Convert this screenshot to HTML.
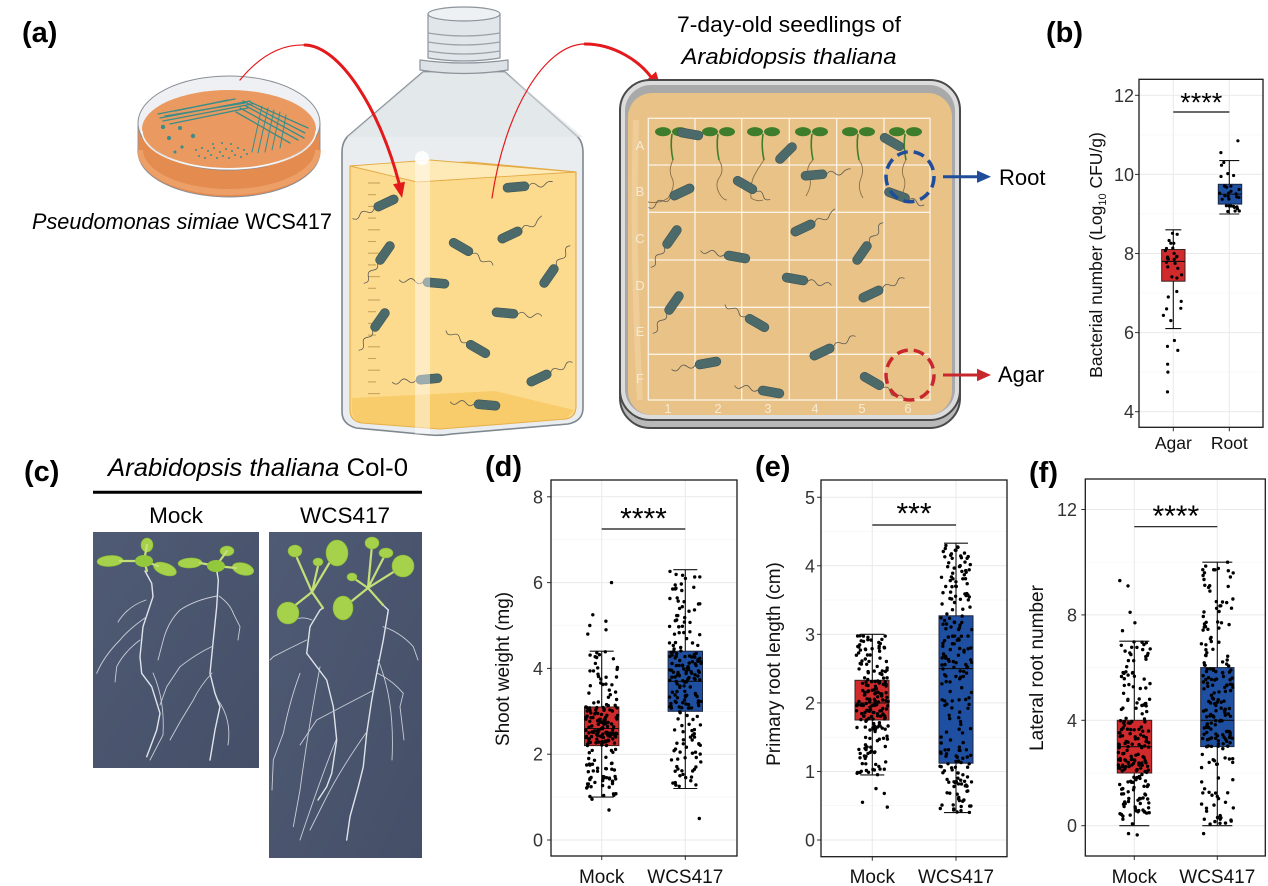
<!DOCTYPE html>
<html><head><meta charset="utf-8">
<style>
html,body{margin:0;padding:0;background:#fff;}
svg{display:block;font-family:"Liberation Sans",Arial,sans-serif;}
.bac{fill:#4d6a6b;stroke:#3b5455;stroke-width:0.6;}
.fl{fill:none;stroke:#5a5a52;stroke-width:0.8;}
.grM{stroke:#e9e9e9;stroke-width:1;}
.grm{stroke:#f4f4f4;stroke-width:0.6;}
.tk{stroke:#333;stroke-width:1;}
.tl{font-size:18px;fill:#333;text-anchor:end;}
.xl{font-size:19px;fill:#111;text-anchor:middle;}
.yt{font-size:19px;fill:#111;text-anchor:middle;}
.lab{font-size:29px;font-weight:bold;fill:#000;}
.root{fill:none;stroke:#dfe3ea;stroke-width:1.4;stroke-linecap:round;}
.rootf{fill:none;stroke:#c9ced8;stroke-width:0.9;stroke-linecap:round;}
.leaf{fill:#a6d24b;stroke:#85b532;stroke-width:0.6;}
.pet{fill:none;stroke:#c4de78;stroke-width:2.2;stroke-linecap:round;}
</style></head>
<body>
<svg width="1268" height="886" viewBox="0 0 1268 886" xmlns="http://www.w3.org/2000/svg">
<rect width="1268" height="886" fill="#fff"/>

<!-- ========== PANEL LABELS ========== -->
<text class="lab" x="22" y="42">(a)</text>
<text class="lab" x="1046" y="42">(b)</text>
<text class="lab" x="24" y="481">(c)</text>
<text class="lab" x="485" y="476">(d)</text>
<text class="lab" x="755" y="476">(e)</text>
<text class="lab" x="1029" y="482">(f)</text>

<!-- ========== PETRI DISH ========== -->
<g>
  <path d="M138,124 L138,152 A91,45 0 0 0 320,152 L320,124 Z" fill="#e48b50" stroke="#8a8f96" stroke-width="0.9"/>
  <path d="M140,150 A89,42 0 0 0 318,150" fill="none" stroke="#efa46e" stroke-width="6" opacity="0.8"/>
  <ellipse cx="229" cy="123" rx="91" ry="47" fill="#eef0f3" stroke="#8a8f96" stroke-width="1"/>
  <ellipse cx="229" cy="129" rx="87" ry="39" fill="#ea9a60"/>
  <path d="M142,131 A87,38 0 0 0 316,131" fill="none" stroke="#fff" stroke-width="1.4" opacity="0.85"/>
  <g stroke="#3a8d8a" stroke-width="1.3" fill="none" stroke-linecap="round">
    <path d="M160,118 L250,101"/><path d="M163,121 L252,104"/><path d="M158,114 L235,99"/>
    <path d="M170,124 L248,108"/><path d="M175,111 L228,100"/><path d="M165,116 L245,103"/>
    <path d="M243,101 L305,133"/><path d="M246,106 L304,138"/><path d="M240,108 L298,140"/>
    <path d="M250,102 L308,128"/><path d="M236,112 L290,143"/>
    <path d="M262,106 L252,152" stroke-width="1"/><path d="M268,108 L258,153" stroke-width="1"/>
    <path d="M274,110 L265,152" stroke-width="1"/><path d="M280,112 L272,150" stroke-width="1"/>
    <path d="M286,115 L280,148" stroke-width="1"/>
  </g>
  <g fill="#3a8d8a">
    <circle cx="163" cy="127" r="2.2"/><circle cx="180" cy="128" r="2"/><circle cx="169" cy="138" r="2.1"/>
    <circle cx="193" cy="136" r="2.2"/><circle cx="182" cy="147" r="1.6"/><circle cx="175" cy="152" r="1.5"/>
    <circle cx="196" cy="150" r="1"/><circle cx="202" cy="148" r="1"/><circle cx="208" cy="151" r="1"/>
    <circle cx="214" cy="148" r="1"/><circle cx="220" cy="152" r="1"/><circle cx="226" cy="149" r="1"/>
    <circle cx="232" cy="151" r="1"/><circle cx="238" cy="148" r="1"/><circle cx="244" cy="150" r="1"/>
    <circle cx="199" cy="156" r="1"/><circle cx="205" cy="158" r="1"/><circle cx="211" cy="155" r="1"/>
    <circle cx="217" cy="158" r="1"/><circle cx="223" cy="156" r="1"/><circle cx="229" cy="158" r="1"/>
    <circle cx="235" cy="155" r="1"/><circle cx="241" cy="157" r="1"/><circle cx="247" cy="154" r="1"/>
    <circle cx="213" cy="144" r="1"/><circle cx="222" cy="143" r="1"/><circle cx="231" cy="144" r="1"/>
  </g>
</g>
<text x="32" y="229" font-size="22" textLength="300" lengthAdjust="spacingAndGlyphs" fill="#000"><tspan font-style="italic">Pseudomonas simiae</tspan> WCS417</text>

<!-- ========== BOTTLE ========== -->
<g>
  <path d="M423,72 L347,137 Q342,143 342,152 L342,412 Q342,424 356,428 L430,435 Q440,436 452,434 L568,424 Q583,421 583,408 L583,152 Q583,143 578,137 L505,72 Z" fill="#e9edf0" stroke="#7f878f" stroke-width="1.6"/>
  <path d="M423,72 L347,137 L583,137 L505,72 Z" fill="#dfe4e8" opacity="0.6"/>
  <path d="M350,166 L350,410 Q350,421 362,423 L440,429 L566,419 Q576,417 576,406 L576,172 L470,162 Z" fill="#fddb8e" stroke="#e3aa45" stroke-width="1.1"/>
  <path d="M352,398 L495,391 L574,410 L566,419 L440,429 L362,423 Q352,420 352,410 Z" fill="#f5c254" opacity="0.6"/>
  <path d="M350,166 L430,160 L576,172 L417,182 Z" fill="#feeab6" stroke="#e3aa45" stroke-width="0.9"/>
  <g stroke="#c9a35a" stroke-width="1.1">
    <line x1="368" y1="183" x2="380" y2="183"/><line x1="368" y1="194.7" x2="376" y2="194.7"/>
    <line x1="368" y1="206.4" x2="380" y2="206.4"/><line x1="368" y1="218.1" x2="376" y2="218.1"/>
    <line x1="368" y1="229.8" x2="380" y2="229.8"/><line x1="368" y1="241.5" x2="376" y2="241.5"/>
    <line x1="368" y1="253.2" x2="380" y2="253.2"/><line x1="368" y1="264.9" x2="376" y2="264.9"/>
    <line x1="368" y1="276.6" x2="380" y2="276.6"/><line x1="368" y1="288.3" x2="376" y2="288.3"/>
    <line x1="368" y1="300" x2="380" y2="300"/><line x1="368" y1="311.7" x2="376" y2="311.7"/>
    <line x1="368" y1="323.4" x2="380" y2="323.4"/><line x1="368" y1="335.1" x2="376" y2="335.1"/>
    <line x1="368" y1="346.8" x2="380" y2="346.8"/><line x1="368" y1="358.5" x2="376" y2="358.5"/>
    <line x1="368" y1="370.2" x2="380" y2="370.2"/><line x1="368" y1="381.9" x2="376" y2="381.9"/>
    <line x1="368" y1="393.6" x2="380" y2="393.6"/>
  </g>
  <!-- bacteria in bottle -->
  <g transform="translate(386,203) rotate(155)"><path class="fl" d="M13,0 c3,-3 5,-3 8,0 s5,3 8,0 s5,-3 8,0"/><rect class="bac" x="-13" y="-4.5" width="26" height="9" rx="4.5"/></g>
  <g transform="translate(516,187) rotate(-5)"><path class="fl" d="M13,0 c3,-3 5,-3 8,0 s5,3 8,0 s5,-3 8,-2"/><rect class="bac" x="-13" y="-4.5" width="26" height="9" rx="4.5"/></g>
  <g transform="translate(510,235) rotate(-25)"><path class="fl" d="M13,0 c3,-3 5,-3 8,0 s5,3 8,0 s5,-3 8,-4"/><rect class="bac" x="-13" y="-4.5" width="26" height="9" rx="4.5"/></g>
  <g transform="translate(461,247) rotate(30)"><path class="fl" d="M13,0 c3,-3 5,-3 8,0 s5,3 8,0 s5,-3 8,0"/><rect class="bac" x="-13" y="-4.5" width="26" height="9" rx="4.5"/></g>
  <g transform="translate(385,253) rotate(125)"><path class="fl" d="M13,0 c3,-3 5,-3 8,0 s5,3 8,0 s5,-3 8,0"/><rect class="bac" x="-13" y="-4.5" width="26" height="9" rx="4.5"/></g>
  <g transform="translate(549,276) rotate(-55)"><path class="fl" d="M13,0 c3,-3 5,-3 8,0 s5,3 8,0 s5,-3 8,0"/><rect class="bac" x="-13" y="-4.5" width="26" height="9" rx="4.5"/></g>
  <g transform="translate(436,283) rotate(185)"><path class="fl" d="M13,0 c3,-3 5,-3 8,0 s5,3 8,0 s5,-3 8,0"/><rect class="bac" x="-13" y="-4.5" width="26" height="9" rx="4.5"/></g>
  <g transform="translate(505,313) rotate(5)"><path class="fl" d="M13,0 c3,-3 5,-3 8,0 s5,3 8,0 s5,-3 8,0"/><rect class="bac" x="-13" y="-4.5" width="26" height="9" rx="4.5"/></g>
  <g transform="translate(380,320) rotate(125)"><path class="fl" d="M13,0 c3,-3 5,-3 8,0 s5,3 8,0 s5,-3 8,0"/><rect class="bac" x="-13" y="-4.5" width="26" height="9" rx="4.5"/></g>
  <g transform="translate(478,349) rotate(210)"><path class="fl" d="M13,0 c3,-3 5,-3 8,0 s5,3 8,0 s5,-3 8,0"/><rect class="bac" x="-13" y="-4.5" width="26" height="9" rx="4.5"/></g>
  <g transform="translate(429,379) rotate(175)"><path class="fl" d="M13,0 c3,-3 5,-3 8,0 s5,3 8,0 s5,-3 8,0"/><rect class="bac" x="-13" y="-4.5" width="26" height="9" rx="4.5"/></g>
  <g transform="translate(539,378) rotate(-25)"><path class="fl" d="M13,0 c3,-3 5,-3 8,0 s5,3 8,0 s5,-3 8,0"/><rect class="bac" x="-13" y="-4.5" width="26" height="9" rx="4.5"/></g>
  <g transform="translate(487,405) rotate(185)"><path class="fl" d="M13,0 c3,-3 5,-3 8,0 s5,3 8,0 s5,-3 8,0"/><rect class="bac" x="-13" y="-4.5" width="26" height="9" rx="4.5"/></g>
  <rect x="415" y="158" width="15" height="276" fill="#fff" opacity="0.45"/>
  <circle cx="422" cy="158" r="7" fill="#fff" opacity="0.85"/>
  <!-- cap -->
  <path d="M428,14 L428,58 Q464,64 500,58 L500,14 Z" fill="#e1e6ea" stroke="#8c939b" stroke-width="1.2"/>
  <path d="M428,33 Q464,39 500,33 M428,42 Q464,48 500,42 M428,51 Q464,57 500,51" fill="none" stroke="#9aa1a8" stroke-width="1.2"/>
  <ellipse cx="464" cy="14" rx="36" ry="7" fill="#eef1f4" stroke="#8c939b" stroke-width="1.2"/>
  <path d="M420,60 Q464,66 508,60 L508,70 Q464,77 420,70 Z" fill="#dde2e6" stroke="#8c939b" stroke-width="1.2"/>
</g>

<!-- ========== RED ARROWS ========== -->
<g fill="none" stroke="#e3191c" stroke-linecap="round">
  <path d="M240,80 C258,58 280,44 305,45" stroke-width="1.2"/>
  <path d="M305,45 C340,46 380,110 399,183" stroke-width="3"/>
  <path d="M492,198 C505,110 545,44 585,44" stroke-width="1.2"/>
  <path d="M585,44 C615,44 640,62 651,77" stroke-width="3"/>
</g>
<polygon points="402,198 405,181.8 393,184.2" fill="#e3191c"/>
<polygon points="661,88 656,71.5 645,81.5" fill="#e3191c"/>

<!-- ========== PLATE ========== -->
<text x="789" y="32" font-size="22" text-anchor="middle" textLength="224" lengthAdjust="spacingAndGlyphs">7-day-old seedlings of</text>
<text x="789" y="64" font-size="22" font-style="italic" text-anchor="middle" textLength="215" lengthAdjust="spacingAndGlyphs">Arabidopsis thaliana</text>
<g>
  <rect x="620" y="84" width="340" height="344" rx="30" fill="#b9b9b9" stroke="#4a4a4a" stroke-width="2"/>
  <rect x="620" y="80" width="340" height="340" rx="30" fill="#dcdcdc" stroke="#4a4a4a" stroke-width="2"/>
  <rect x="625" y="85" width="330" height="330" rx="26" fill="#a9a9a9"/>
  <rect x="628" y="93" width="324" height="322" rx="24" fill="#e9c287"/>
  <path d="M636,120 Q632,250 640,400" stroke="#f1d3a3" stroke-width="6" fill="none" opacity="0.6"/>
  <g stroke="#fbf3e6" stroke-width="1.3" fill="none">
    <rect x="648.3" y="118.3" width="281.7" height="281.7"/>
    <line x1="695" y1="118.3" x2="695" y2="400"/><line x1="741.7" y1="118.3" x2="741.7" y2="400"/>
    <line x1="789.3" y1="118.3" x2="789.3" y2="400"/><line x1="836.7" y1="118.3" x2="836.7" y2="400"/>
    <line x1="884" y1="118.3" x2="884" y2="400"/>
    <line x1="648.3" y1="165" x2="930" y2="165"/><line x1="648.3" y1="212.3" x2="930" y2="212.3"/>
    <line x1="648.3" y1="260" x2="930" y2="260"/><line x1="648.3" y1="307.3" x2="930" y2="307.3"/>
    <line x1="648.3" y1="354.3" x2="930" y2="354.3"/>
  </g>
  <g fill="#f7ead4" font-size="13" text-anchor="middle">
    <text x="640" y="150">A</text><text x="640" y="196">B</text><text x="640" y="243">C</text>
    <text x="640" y="290">D</text><text x="640" y="336">E</text><text x="640" y="383">F</text>
    <text x="668" y="413">1</text><text x="718" y="413">2</text><text x="768" y="413">3</text>
    <text x="815" y="413">4</text><text x="862" y="413">5</text><text x="908" y="413">6</text>
  </g>
  <!-- seedlings -->
  <g>
    <path d="M672,134 q-2,12 1,26" stroke="#3f7f2c" stroke-width="1.6" fill="none"/>
    <path d="M673,160 q-5,10 -1,18 q4,8 -4,20 q-8,6 -20,4" stroke="#8b7047" stroke-width="0.9" fill="none"/>
    <path d="M718,134 q-2,12 1,26" stroke="#3f7f2c" stroke-width="1.6" fill="none"/>
    <path d="M719,160 q6,10 0,18 q-5,8 2,18 q3,4 6,4" stroke="#8b7047" stroke-width="0.9" fill="none"/>
    <path d="M763,134 q-2,12 1,26" stroke="#3f7f2c" stroke-width="1.6" fill="none"/>
    <path d="M764,160 q-6,8 -10,16 q-4,8 -3,22 q6,4 12,2" stroke="#8b7047" stroke-width="0.9" fill="none"/>
    <path d="M812,134 q-2,12 1,26" stroke="#3f7f2c" stroke-width="1.6" fill="none"/>
    <path d="M813,160 q-8,8 -4,16 q4,8 -3,20" stroke="#8b7047" stroke-width="0.9" fill="none"/>
    <path d="M858,134 q-2,12 1,26" stroke="#3f7f2c" stroke-width="1.6" fill="none"/>
    <path d="M859,160 q6,8 2,18 q-4,10 2,20" stroke="#8b7047" stroke-width="0.9" fill="none"/>
    <path d="M905,134 q-2,12 1,26" stroke="#3f7f2c" stroke-width="1.6" fill="none"/>
    <path d="M906,160 q-6,10 -2,18 q3,8 -4,20" stroke="#8b7047" stroke-width="0.9" fill="none"/>
    <g fill="#3e7d2c">
      <ellipse cx="663" cy="131.7" rx="8" ry="4.6"/><ellipse cx="680" cy="131.7" rx="8" ry="4.6"/>
      <ellipse cx="710" cy="131.7" rx="8" ry="4.6"/><ellipse cx="727" cy="131.7" rx="8" ry="4.6"/>
      <ellipse cx="755" cy="131.7" rx="8" ry="4.6"/><ellipse cx="772" cy="131.7" rx="8" ry="4.6"/>
      <ellipse cx="803" cy="131.7" rx="8" ry="4.6"/><ellipse cx="820" cy="131.7" rx="8" ry="4.6"/>
      <ellipse cx="850" cy="131.7" rx="8" ry="4.6"/><ellipse cx="867" cy="131.7" rx="8" ry="4.6"/>
      <ellipse cx="897" cy="131.7" rx="8" ry="4.6"/><ellipse cx="914" cy="131.7" rx="8" ry="4.6"/>
    </g>
  </g>
  <!-- bacteria on plate -->
  <g transform="translate(690,134) rotate(10)"><rect class="bac" x="-13" y="-4.5" width="26" height="9" rx="4.5"/></g>
  <g transform="translate(786,153) rotate(-45)"><rect class="bac" x="-13" y="-4.5" width="26" height="9" rx="4.5"/></g>
  <g transform="translate(892,142) rotate(30)"><rect class="bac" x="-13" y="-4.5" width="26" height="9" rx="4.5"/></g>
  <g transform="translate(682,192) rotate(155)"><path class="fl" d="M13,0 c3,-3 5,-3 8,0 s5,3 8,0 s5,-3 8,0"/><rect class="bac" x="-13" y="-4.5" width="26" height="9" rx="4.5"/></g>
  <g transform="translate(745,185) rotate(30)"><path class="fl" d="M13,0 c3,-3 5,-3 8,0 s5,3 8,0"/><rect class="bac" x="-13" y="-4.5" width="26" height="9" rx="4.5"/></g>
  <g transform="translate(814,175) rotate(-5)"><path class="fl" d="M13,0 c3,-3 5,-3 8,0 s5,3 8,0 s5,-3 8,-3"/><rect class="bac" x="-13" y="-4.5" width="26" height="9" rx="4.5"/></g>
  <g transform="translate(897,195) rotate(20)"><path class="fl" d="M13,0 c3,-3 5,-3 8,0 s5,3 8,0"/><rect class="bac" x="-13" y="-4.5" width="26" height="9" rx="4.5"/></g>
  <g transform="translate(672,237) rotate(125)"><path class="fl" d="M13,0 c3,-3 5,-3 8,0 s5,3 8,0 s5,-3 8,0"/><rect class="bac" x="-13" y="-4.5" width="26" height="9" rx="4.5"/></g>
  <g transform="translate(803,228) rotate(-25)"><path class="fl" d="M13,0 c3,-3 5,-3 8,0 s5,3 8,0 s5,-3 8,-4"/><rect class="bac" x="-13" y="-4.5" width="26" height="9" rx="4.5"/></g>
  <g transform="translate(737,257) rotate(190)"><path class="fl" d="M13,0 c3,-3 5,-3 8,0 s5,3 8,0 s5,-3 8,0"/><rect class="bac" x="-13" y="-4.5" width="26" height="9" rx="4.5"/></g>
  <g transform="translate(862,253) rotate(-55)"><path class="fl" d="M13,0 c3,-3 5,-3 8,0 s5,3 8,0 s5,-3 8,0"/><rect class="bac" x="-13" y="-4.5" width="26" height="9" rx="4.5"/></g>
  <g transform="translate(795,279) rotate(10)"><path class="fl" d="M13,0 c3,-3 5,-3 8,0 s5,3 8,0 s5,-3 8,0"/><rect class="bac" x="-13" y="-4.5" width="26" height="9" rx="4.5"/></g>
  <g transform="translate(871,294) rotate(-25)"><path class="fl" d="M13,0 c3,-3 5,-3 8,0 s5,3 8,0 s5,-3 8,0"/><rect class="bac" x="-13" y="-4.5" width="26" height="9" rx="4.5"/></g>
  <g transform="translate(674,303) rotate(125)"><path class="fl" d="M13,0 c3,-3 5,-3 8,0 s5,3 8,0 s5,-3 8,0"/><rect class="bac" x="-13" y="-4.5" width="26" height="9" rx="4.5"/></g>
  <g transform="translate(757,323) rotate(210)"><path class="fl" d="M13,0 c3,-3 5,-3 8,0 s5,3 8,0 s5,-3 8,0"/><rect class="bac" x="-13" y="-4.5" width="26" height="9" rx="4.5"/></g>
  <g transform="translate(822,352) rotate(-25)"><path class="fl" d="M13,0 c3,-3 5,-3 8,0 s5,3 8,0 s5,-3 8,0"/><rect class="bac" x="-13" y="-4.5" width="26" height="9" rx="4.5"/></g>
  <g transform="translate(708,363) rotate(170)"><path class="fl" d="M13,0 c3,-3 5,-3 8,0 s5,3 8,0 s5,-3 8,0"/><rect class="bac" x="-13" y="-4.5" width="26" height="9" rx="4.5"/></g>
  <g transform="translate(771,392) rotate(190)"><path class="fl" d="M13,0 c3,-3 5,-3 8,0 s5,3 8,0 s5,-3 8,0"/><rect class="bac" x="-13" y="-4.5" width="26" height="9" rx="4.5"/></g>
  <g transform="translate(872,381) rotate(30)"><path class="fl" d="M13,0 c3,-3 5,-3 8,0 s5,3 8,0 s5,-3 8,0"/><rect class="bac" x="-13" y="-4.5" width="26" height="9" rx="4.5"/></g>
  <!-- circles and arrows -->
  <ellipse cx="910" cy="176.7" rx="24" ry="25" fill="none" stroke="#1f4d9a" stroke-width="3.5" stroke-dasharray="11 6"/>
  <ellipse cx="910" cy="375" rx="24" ry="25" fill="none" stroke="#c8282d" stroke-width="3.5" stroke-dasharray="11 6"/>
  <line x1="943" y1="176.7" x2="979" y2="176.7" stroke="#1f4d9a" stroke-width="3"/>
  <polygon points="977,170.5 991,176.7 977,182.9" fill="#1f4d9a"/>
  <line x1="943" y1="375" x2="979" y2="375" stroke="#c8282d" stroke-width="3"/>
  <polygon points="977,368.8 991,375 977,381.2" fill="#c8282d"/>
</g>
<text x="999" y="185" font-size="22">Root</text>
<text x="998" y="382" font-size="22">Agar</text>

<!-- ========== PANEL B ========== -->
<g>
  <rect x="1139" y="79.3" width="124" height="348" fill="#fff"/>
  <g class="grm"><line x1="1139" x2="1263" y1="372.1" y2="372.1"/><line x1="1139" x2="1263" y1="293" y2="293"/><line x1="1139" x2="1263" y1="214" y2="214"/><line x1="1139" x2="1263" y1="134.9" y2="134.9"/></g>
  <g class="grM"><line x1="1139" x2="1263" y1="411.7" y2="411.7"/><line x1="1139" x2="1263" y1="332.6" y2="332.6"/><line x1="1139" x2="1263" y1="253.5" y2="253.5"/><line x1="1139" x2="1263" y1="174.4" y2="174.4"/><line x1="1139" x2="1263" y1="95.3" y2="95.3"/>
    <line x1="1173.3" x2="1173.3" y1="79.3" y2="427.3"/><line x1="1229.3" x2="1229.3" y1="79.3" y2="427.3"/></g>
  <g class="tk"><line x1="1135" x2="1139" y1="411.7" y2="411.7"/><line x1="1135" x2="1139" y1="332.6" y2="332.6"/><line x1="1135" x2="1139" y1="253.5" y2="253.5"/><line x1="1135" x2="1139" y1="174.4" y2="174.4"/><line x1="1135" x2="1139" y1="95.3" y2="95.3"/>
    <line x1="1173.3" x2="1173.3" y1="427.3" y2="431.3"/><line x1="1229.3" x2="1229.3" y1="427.3" y2="431.3"/></g>
  <g class="tl"><text x="1134" y="418">4</text><text x="1134" y="339">6</text><text x="1134" y="260">8</text><text x="1134" y="181">10</text><text x="1134" y="102">12</text></g>
  <g stroke="#111" stroke-width="1.1">
    <line x1="1173.3" x2="1173.3" y1="229.8" y2="328.6"/><line x1="1165.3" x2="1181.3" y1="229.8" y2="229.8"/><line x1="1165.3" x2="1181.3" y1="328.6" y2="328.6"/>
    <line x1="1229.3" x2="1229.3" y1="160.6" y2="214"/><line x1="1219.3" x2="1239.3" y1="160.6" y2="160.6"/><line x1="1219.3" x2="1239.3" y1="214" y2="214"/>
  </g>
  <rect x="1161.7" y="249.5" width="23.3" height="31.7" fill="#d12a2c" stroke="#3a2020" stroke-width="1"/>
  <line x1="1161.7" x2="1185" y1="261.4" y2="261.4" stroke="#111" stroke-width="1.1"/>
  <rect x="1218.3" y="184.3" width="23.4" height="19.8" fill="#1e4fa0" stroke="#1a2540" stroke-width="1"/>
  <line x1="1218.3" x2="1241.7" y1="194.2" y2="194.2" stroke="#111" stroke-width="1.1"/>
  <g id="dots-b" fill="#000"></g>
  <rect x="1139" y="79.3" width="124" height="348" fill="none" stroke="#1a1a1a" stroke-width="1.3"/>
  <line x1="1173.3" x2="1229.3" y1="112" y2="112" stroke="#111" stroke-width="1.2"/>
  <text x="1201.3" y="111.5" font-size="27" text-anchor="middle">****</text>
  <text class="xl" x="1173.3" y="449" style="font-size:17.5px">Agar</text>
  <text class="xl" x="1229.3" y="449" style="font-size:17.5px">Root</text>
  <text transform="translate(1102,255) rotate(-90)" text-anchor="middle" font-size="17.5" fill="#111">Bacterial number (Log<tspan font-size="11" dy="4">10</tspan><tspan dy="-4"> CFU/g)</tspan></text>
</g>

<!-- ========== PANEL C ========== -->
<text x="108" y="476" font-size="25" textLength="300" lengthAdjust="spacingAndGlyphs"><tspan font-style="italic">Arabidopsis thaliana</tspan> Col-0</text>
<line x1="93" y1="492.3" x2="422" y2="492.3" stroke="#000" stroke-width="3"/>
<text x="176" y="523" font-size="22.5" text-anchor="middle">Mock</text>
<text x="345" y="523" font-size="22.5" text-anchor="middle">WCS417</text>
<defs>
  <linearGradient id="bg" x1="0" y1="0" x2="1" y2="1">
    <stop offset="0" stop-color="#4f5a74"/><stop offset="1" stop-color="#454f68"/>
  </linearGradient>
</defs>
<rect x="93" y="532" width="166" height="236" fill="url(#bg)"/>
<rect x="269" y="532" width="153" height="326" fill="url(#bg)"/>
<!-- mock roots -->
<g>
  <path class="root" d="M145,571 L151.7,583.3 L153,596.7 L143,626.7 L140,656.7 L141.7,673.3 L151.7,686.7 L160,713.3 L156.7,730 L146.7,756.7"/>
  <path class="rootf" d="M146.7,616.7 Q130,628 120,640 Q104,656 96.7,673.3"/>
  <path class="rootf" d="M140,640 Q124,652 116.7,666.7 L115,682"/>
  <path class="rootf" d="M146,600 Q128,606 118,622"/>
  <path class="rootf" d="M153,673 Q165,700 163,735 L150,760"/>
  <path class="root" d="M217,572 L218.3,580 L216.7,606.7 L213.3,640 L210,673.3 L215,693.3 L220,706.7 L215,730 L210,760"/>
  <path class="rootf" d="M217,596 Q195,600 180,610 Q168,622 163.3,640 L158,660"/>
  <path class="rootf" d="M219,596 Q230,604 233.3,613.3 L240,626.7 L238,640"/>
  <path class="rootf" d="M213,646 Q196,654 180,666.7 L166.7,686.7 L160,705"/>
  <path class="rootf" d="M212,673 Q200,686 193.3,700 L180,722 L170,740"/>
  <path class="rootf" d="M218,700 Q232,720 228,745"/>
</g>
<g>
  <path class="pet" d="M144,561 L147,571"/>
  <ellipse class="leaf" cx="110" cy="561" rx="13" ry="5.5" transform="rotate(-4 110 561)"/>
  <ellipse class="leaf" cx="165" cy="569" rx="12" ry="6" transform="rotate(20 165 569)"/>
  <ellipse class="leaf" cx="147" cy="545" rx="6" ry="7"/>
  <path class="pet" d="M144,561 L147,545 M144,561 L120,561 M144,561 L158,566"/>
  <ellipse cx="144" cy="561" rx="9" ry="6" fill="#93c83c"/>
  <path class="pet" d="M216,566 L217,572"/>
  <ellipse class="leaf" cx="190" cy="563" rx="12" ry="5" transform="rotate(-3 190 563)"/>
  <ellipse class="leaf" cx="243" cy="569" rx="11" ry="6" transform="rotate(15 243 569)"/>
  <ellipse class="leaf" cx="227" cy="551" rx="7" ry="5"/>
  <path class="pet" d="M216,566 L227,551 M216,566 L200,563 M216,566 L236,568"/>
  <ellipse cx="216" cy="566" rx="9" ry="6" fill="#93c83c"/>
</g>
<!-- WCS roots -->
<g>
  <path class="root" d="M323,608 L320,610 L310,626.7 L306.7,653.3 L326.7,680 L333.3,706.7 L336.7,740 L331.7,773.3 L326.7,786.7 L318,800"/>
  <path class="rootf" d="M306.7,640 Q290,648 273.3,656.7 L270,660"/>
  <path class="rootf" d="M300,673.3 Q290,700 283.3,733.3 L273.3,760 L272,790"/>
  <path class="rootf" d="M320,666.7 Q308,730 300,790 L293.3,826.7"/>
  <path class="rootf" d="M336,740 Q320,780 300,840"/>
  <path class="rootf" d="M312,620 Q300,615 290,622"/>
  <path class="root" d="M383,605 L388.3,610 L383.3,640 L376.7,673.3 L371.7,700 L366.7,733.3 L363.3,766.7 L358.3,786.7 L350,816.7 L346.7,840"/>
  <path class="rootf" d="M383,626.7 Q400,632 413.3,646.7 L418,660"/>
  <path class="rootf" d="M377,673 Q392,680 403.3,693.3 L400,706.7 L404,740"/>
  <path class="rootf" d="M374,690 Q345,705 316.7,720 L300,745"/>
  <path class="rootf" d="M366,733 Q340,770 325,800 L310,830"/>
  <path class="rootf" d="M378,660 Q395,700 392,760"/>
</g>
<g>
  <path class="pet" d="M312,592 L330,562 M312,592 L297,558 M312,592 L293,607 M312,592 L323,608 M312,592 L318,566"/>
  <ellipse class="leaf" cx="337" cy="553" rx="11" ry="13"/>
  <ellipse class="leaf" cx="295" cy="551" rx="7" ry="6"/>
  <ellipse class="leaf" cx="288" cy="613" rx="11" ry="11"/>
  <ellipse class="leaf" cx="318" cy="562" rx="5" ry="4"/>
  <path class="pet" d="M368,588 L403,566 M368,588 L372,545 M368,588 L343,608 M368,588 L386,553 M368,588 L352,577 M368,588 L383,605"/>
  <ellipse class="leaf" cx="403" cy="566" rx="11" ry="11"/>
  <ellipse class="leaf" cx="372" cy="543" rx="7" ry="6"/>
  <ellipse class="leaf" cx="343" cy="608" rx="10" ry="12"/>
  <ellipse class="leaf" cx="386" cy="553" rx="7" ry="5"/>
  <ellipse class="leaf" cx="352" cy="577" rx="5" ry="4"/>
</g>

<!-- ========== PANEL D ========== -->
<g>
  <rect x="551" y="480" width="186" height="376" fill="#fff"/>
  <g class="grm"><line x1="551" x2="737" y1="797.1" y2="797.1"/><line x1="551" x2="737" y1="711.3" y2="711.3"/><line x1="551" x2="737" y1="625.5" y2="625.5"/><line x1="551" x2="737" y1="539.7" y2="539.7"/></g>
  <g class="grM"><line x1="551" x2="737" y1="840" y2="840"/><line x1="551" x2="737" y1="754.2" y2="754.2"/><line x1="551" x2="737" y1="668.4" y2="668.4"/><line x1="551" x2="737" y1="582.6" y2="582.6"/><line x1="551" x2="737" y1="496.8" y2="496.8"/>
    <line x1="601.7" x2="601.7" y1="480" y2="856"/><line x1="685.3" x2="685.3" y1="480" y2="856"/></g>
  <g class="tk"><line x1="547" x2="551" y1="840" y2="840"/><line x1="547" x2="551" y1="754.2" y2="754.2"/><line x1="547" x2="551" y1="668.4" y2="668.4"/><line x1="547" x2="551" y1="582.6" y2="582.6"/><line x1="547" x2="551" y1="496.8" y2="496.8"/>
    <line x1="601.7" x2="601.7" y1="856" y2="860"/><line x1="685.3" x2="685.3" y1="856" y2="860"/></g>
  <g class="tl"><text x="543" y="846.5">0</text><text x="543" y="760.7">2</text><text x="543" y="674.9">4</text><text x="543" y="589.1">6</text><text x="543" y="503.3">8</text></g>
  <g stroke="#111" stroke-width="1.1">
    <line x1="601.7" x2="601.7" y1="651.2" y2="797.1"/><line x1="589.7" x2="613.7" y1="651.2" y2="651.2"/><line x1="589.7" x2="613.7" y1="797.1" y2="797.1"/>
    <line x1="685.3" x2="685.3" y1="569.7" y2="788.5"/><line x1="673.3" x2="697.3" y1="569.7" y2="569.7"/><line x1="673.3" x2="697.3" y1="788.5" y2="788.5"/>
  </g>
  <rect x="584.5" y="707" width="34.4" height="38.6" fill="#d12a2c" stroke="#3a2020" stroke-width="1"/>
  <line x1="584.5" x2="618.9" y1="728.5" y2="728.5" stroke="#111" stroke-width="1.1"/>
  <rect x="668.1" y="651.2" width="34.4" height="60.1" fill="#1e4fa0" stroke="#1a2540" stroke-width="1"/>
  <line x1="668.1" x2="702.5" y1="681.3" y2="681.3" stroke="#111" stroke-width="1.1"/>
  <g id="dots-d" fill="#000"></g>
  <rect x="551" y="480" width="186" height="376" fill="none" stroke="#1a1a1a" stroke-width="1.3"/>
  <line x1="601.7" x2="685.3" y1="529" y2="529" stroke="#111" stroke-width="1.2"/>
  <text x="643.5" y="528.7" font-size="30" text-anchor="middle">****</text>
  <text class="xl" x="601.7" y="883">Mock</text>
  <text class="xl" x="685.3" y="883">WCS417</text>
  <text class="yt" transform="translate(509,669) rotate(-90)">Shoot weight (mg)</text>
</g>

<!-- ========== PANEL E ========== -->
<g>
  <rect x="821" y="480" width="186" height="376.7" fill="#fff"/>
  <g class="grm"><line x1="821" x2="1007" y1="805.7" y2="805.7"/><line x1="821" x2="1007" y1="737.2" y2="737.2"/><line x1="821" x2="1007" y1="668.6" y2="668.6"/><line x1="821" x2="1007" y1="600.1" y2="600.1"/><line x1="821" x2="1007" y1="531.5" y2="531.5"/></g>
  <g class="grM"><line x1="821" x2="1007" y1="840" y2="840"/><line x1="821" x2="1007" y1="771.45" y2="771.45"/><line x1="821" x2="1007" y1="702.9" y2="702.9"/><line x1="821" x2="1007" y1="634.35" y2="634.35"/><line x1="821" x2="1007" y1="565.8" y2="565.8"/><line x1="821" x2="1007" y1="497.25" y2="497.25"/>
    <line x1="872.3" x2="872.3" y1="480" y2="856.7"/><line x1="956" x2="956" y1="480" y2="856.7"/></g>
  <g class="tk"><line x1="817" x2="821" y1="840" y2="840"/><line x1="817" x2="821" y1="771.45" y2="771.45"/><line x1="817" x2="821" y1="702.9" y2="702.9"/><line x1="817" x2="821" y1="634.35" y2="634.35"/><line x1="817" x2="821" y1="565.8" y2="565.8"/><line x1="817" x2="821" y1="497.25" y2="497.25"/>
    <line x1="872.3" x2="872.3" y1="856.7" y2="860.7"/><line x1="956" x2="956" y1="856.7" y2="860.7"/></g>
  <g class="tl"><text x="815" y="846.5">0</text><text x="815" y="778">1</text><text x="815" y="709.4">2</text><text x="815" y="640.9">3</text><text x="815" y="572.3">4</text><text x="815" y="503.8">5</text></g>
  <g stroke="#111" stroke-width="1.1">
    <line x1="872.3" x2="872.3" y1="634.35" y2="774.9"/><line x1="860.3" x2="884.3" y1="634.35" y2="634.35"/><line x1="860.3" x2="884.3" y1="774.9" y2="774.9"/>
    <line x1="956" x2="956" y1="543.2" y2="812.6"/><line x1="944" x2="968" y1="543.2" y2="543.2"/><line x1="944" x2="968" y1="812.6" y2="812.6"/>
  </g>
  <rect x="855" y="680.3" width="34" height="39.7" fill="#d12a2c" stroke="#3a2020" stroke-width="1"/>
  <line x1="855" x2="889" y1="702.9" y2="702.9" stroke="#111" stroke-width="1.1"/>
  <rect x="939" y="615.8" width="34" height="147.4" fill="#1e4fa0" stroke="#1a2540" stroke-width="1"/>
  <line x1="939" x2="973" y1="668.6" y2="668.6" stroke="#111" stroke-width="1.1"/>
  <g id="dots-e" fill="#000"></g>
  <rect x="821" y="480" width="186" height="376.7" fill="none" stroke="#1a1a1a" stroke-width="1.3"/>
  <line x1="872.3" x2="956" y1="525" y2="525" stroke="#111" stroke-width="1.2"/>
  <text x="914" y="523.7" font-size="30" text-anchor="middle">***</text>
  <text class="xl" x="872.3" y="883">Mock</text>
  <text class="xl" x="956" y="883">WCS417</text>
  <text class="yt" transform="translate(780,664) rotate(-90)">Primary root length (cm)</text>
</g>

<!-- ========== PANEL F ========== -->
<g>
  <rect x="1085.3" y="479" width="180" height="377" fill="#fff"/>
  <g class="grm"><line x1="1085.3" x2="1265.3" y1="773" y2="773"/><line x1="1085.3" x2="1265.3" y1="667.6" y2="667.6"/><line x1="1085.3" x2="1265.3" y1="562.2" y2="562.2"/></g>
  <g class="grM"><line x1="1085.3" x2="1265.3" y1="825.7" y2="825.7"/><line x1="1085.3" x2="1265.3" y1="720.3" y2="720.3"/><line x1="1085.3" x2="1265.3" y1="614.9" y2="614.9"/><line x1="1085.3" x2="1265.3" y1="509.5" y2="509.5"/>
    <line x1="1134.3" x2="1134.3" y1="479" y2="856"/><line x1="1217.3" x2="1217.3" y1="479" y2="856"/></g>
  <g class="tk"><line x1="1081.3" x2="1085.3" y1="825.7" y2="825.7"/><line x1="1081.3" x2="1085.3" y1="720.3" y2="720.3"/><line x1="1081.3" x2="1085.3" y1="614.9" y2="614.9"/><line x1="1081.3" x2="1085.3" y1="509.5" y2="509.5"/>
    <line x1="1134.3" x2="1134.3" y1="856" y2="860"/><line x1="1217.3" x2="1217.3" y1="856" y2="860"/></g>
  <g class="tl"><text x="1077" y="832.2">0</text><text x="1077" y="726.8">4</text><text x="1077" y="621.4">8</text><text x="1077" y="516">12</text></g>
  <g stroke="#111" stroke-width="1.1">
    <line x1="1134.3" x2="1134.3" y1="641.2" y2="825.7"/><line x1="1119.3" x2="1149.3" y1="641.2" y2="641.2"/><line x1="1119.3" x2="1149.3" y1="825.7" y2="825.7"/>
    <line x1="1217.3" x2="1217.3" y1="562.2" y2="825.7"/><line x1="1202.3" x2="1232.3" y1="562.2" y2="562.2"/><line x1="1202.3" x2="1232.3" y1="825.7" y2="825.7"/>
  </g>
  <rect x="1117.3" y="720.3" width="34.4" height="52.7" fill="#d12a2c" stroke="#3a2020" stroke-width="1"/>
  <line x1="1117.3" x2="1151.7" y1="746.7" y2="746.7" stroke="#111" stroke-width="1.1"/>
  <rect x="1200.7" y="667.6" width="33.3" height="79" fill="#1e4fa0" stroke="#1a2540" stroke-width="1"/>
  <line x1="1200.7" x2="1234" y1="720.3" y2="720.3" stroke="#111" stroke-width="1.1"/>
  <g id="dots-f" fill="#000"></g>
  <rect x="1085.3" y="479" width="180" height="377" fill="none" stroke="#1a1a1a" stroke-width="1.3"/>
  <line x1="1134.3" x2="1217.3" y1="526.7" y2="526.7" stroke="#111" stroke-width="1.2"/>
  <text x="1175.8" y="526" font-size="30" text-anchor="middle">****</text>
  <text class="xl" x="1134.3" y="883">Mock</text>
  <text class="xl" x="1217.3" y="883">WCS417</text>
  <text class="yt" transform="translate(1043,668) rotate(-90)">Lateral root number</text>
</g>
</svg>

<script>
(function(){
var NS="http://www.w3.org/2000/svg";
function rng(a){return function(){a|=0;a=a+0x6D2B79F5|0;var t=Math.imul(a^a>>>15,1|a);t=t+Math.imul(t^t>>>7,61|t)^t;return((t^t>>>14)>>>0)/4294967296;};}
function q(u,qs){var i=Math.min(3,Math.floor(u*4));var f=u*4-i;return qs[i]+(qs[i+1]-qs[i])*f;}
function dots(gid,cx,hw,yf,qs,n,outl,seed,r){
  var g=document.getElementById(gid);if(!g)return;var R=rng(seed);
  function add(v){var c=document.createElementNS(NS,"circle");c.setAttribute("cx",(cx+(R()*2-1)*hw).toFixed(1));c.setAttribute("cy",yf(v).toFixed(1));c.setAttribute("r",r);g.appendChild(c);}
  for(var i=0;i<n;i++){add(q(R(),qs));}
  outl.forEach(add);
}
var yd=function(v){return 840-42.9*v;};
var ye=function(v){return 840-68.55*v;};
var yf=function(v){return 825.7-26.35*v;};
var yb=function(v){return 95.3+(12-v)*39.55;};
dots("dots-d",601.7,16,yd,[1.0,2.2,2.6,3.1,4.4],200,[4.8,4.9,5.0,5.1,5.25,6.0,0.7,0.95],11,1.7);
dots("dots-d",685.3,16,yd,[1.2,3.0,3.7,4.4,6.3],200,[0.5],23,1.7);
dots("dots-e",872.3,16,ye,[0.95,1.75,2.0,2.33,3.0],200,[0.48,0.55,0.68,0.75],37,1.7);
dots("dots-e",956,16,ye,[0.4,1.12,2.5,3.27,4.33],220,[],41,1.7);
dots("dots-f",1134.3,16,yf,[0,2,3,4,7],200,[7.4,7.7,8.1,9.1,9.3,-0.3,-0.35],53,1.7);
dots("dots-f",1217.3,16,yf,[0,3,4,6,10],200,[-0.3],67,1.7);
dots("dots-b",1173.3,10,yb,[6.1,7.3,7.8,8.1,8.6],28,[4.5,5.0,5.2,5.55,5.65,5.8,6.6],71,1.6);
dots("dots-b",1229.3,10,yb,[9.0,9.25,9.5,9.75,10.35],30,[10.55,10.85],83,1.6);
})();
</script>
</body></html>
